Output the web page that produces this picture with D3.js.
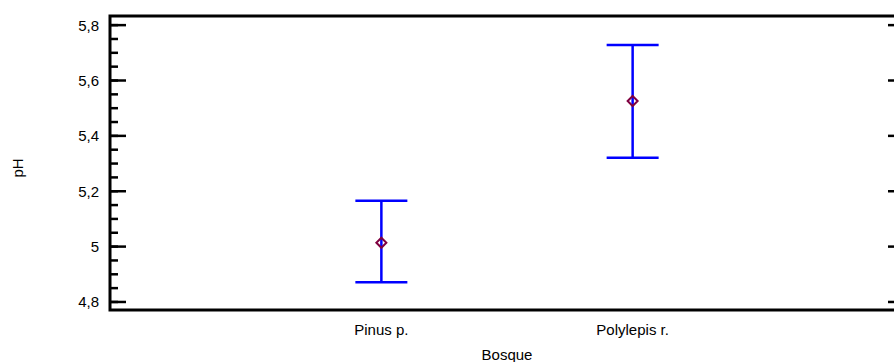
<!DOCTYPE html>
<html lang="es">
  <head>
    <meta charset="UTF-8" />
    <title>pH por Bosque</title>
    <script src="https://d3js.org/d3.v7.min.js"></script>
    <style>
      body {
        margin: 0;
        background: #fff;
      }
      svg text {
        font-family: "Liberation Sans", Arial, sans-serif;
        font-size: 15px;
        fill: #000;
      }
    </style>
  </head>
  <body>
    <svg id="chart" width="894" height="362"></svg>

    <script>
      // Data
      const categories = ["Pinus p.", "Polylepis r."];
      const means = [5.014, 5.526];
      const lower = [4.871, 5.321];
      const upper = [5.166, 5.728];

      const tickValues = [4.8, 5.0, 5.2, 5.4, 5.6, 5.8];
      const tickLabels = ["4,8", "5", "5,2", "5,4", "5,6", "5,8"];
      const minorTicks = d3.range(4.8, 5.801, 0.05);

      const svg = d3.select("#chart");
      // plot area runs off the right edge of the window, as in the original
      const plotLeft = 110, plotRight = 904, plotTop = 16, plotBottom = 310;

      const x = d3.scalePoint().domain(categories).range([plotLeft, plotRight]).padding(1.08);
      const y = d3.scaleLinear().domain([4.771, 5.833]).range([plotBottom, plotTop]);

      // Frame
      svg.append("rect")
        .attr("x", plotLeft)
        .attr("y", plotTop)
        .attr("width", plotRight - plotLeft)
        .attr("height", plotBottom - plotTop)
        .attr("fill", "none")
        .attr("stroke", "#000")
        .attr("stroke-width", 3);

      // Left axis: inward ticks
      const leftAxis = svg.append("g");
      leftAxis.selectAll(".minor")
        .data(minorTicks)
        .enter()
        .append("line")
        .attr("x1", plotLeft)
        .attr("x2", plotLeft + 8)
        .attr("y1", (d) => y(d))
        .attr("y2", (d) => y(d))
        .attr("stroke", "#000")
        .attr("stroke-width", 2.5);
      leftAxis.selectAll(".major")
        .data(tickValues)
        .enter()
        .append("line")
        .attr("x1", plotLeft)
        .attr("x2", plotLeft + 16)
        .attr("y1", (d) => y(d))
        .attr("y2", (d) => y(d))
        .attr("stroke", "#000")
        .attr("stroke-width", 2.5);
      leftAxis.selectAll("text")
        .data(tickValues)
        .enter()
        .append("text")
        .attr("x", plotLeft - 11)
        .attr("y", (d) => y(d))
        .attr("dy", "0.36em")
        .attr("text-anchor", "end")
        .text((d, i) => tickLabels[i]);

      // Right axis: major ticks only
      svg.append("g")
        .selectAll("line")
        .data(tickValues)
        .enter()
        .append("line")
        .attr("x1", plotRight - 16)
        .attr("x2", plotRight)
        .attr("y1", (d) => y(d))
        .attr("y2", (d) => y(d))
        .attr("stroke", "#000")
        .attr("stroke-width", 2.5);

      // Category labels
      svg.append("g")
        .selectAll("text")
        .data(categories)
        .enter()
        .append("text")
        .attr("x", (d) => x(d))
        .attr("y", 335)
        .attr("text-anchor", "middle")
        .text((d) => d);

      // Axis titles
      svg.append("text")
        .attr("x", (plotLeft + plotRight) / 2)
        .attr("y", 360)
        .attr("text-anchor", "middle")
        .text("Bosque");

      svg.append("text")
        .attr("transform", "translate(23,168) rotate(-90)")
        .attr("text-anchor", "middle")
        .text("pH");

      // Error bars
      const bars = svg.append("g")
        .selectAll("g")
        .data(categories)
        .enter()
        .append("g")
        .attr("stroke", "#0000ff")
        .attr("stroke-width", 2.5);

      bars.append("line")
        .attr("x1", (d) => x(d))
        .attr("x2", (d) => x(d))
        .attr("y1", (d, i) => y(upper[i]))
        .attr("y2", (d, i) => y(lower[i]));
      bars.append("line")
        .attr("x1", (d) => x(d) - 26)
        .attr("x2", (d) => x(d) + 26)
        .attr("y1", (d, i) => y(upper[i]))
        .attr("y2", (d, i) => y(upper[i]));
      bars.append("line")
        .attr("x1", (d) => x(d) - 26)
        .attr("x2", (d) => x(d) + 26)
        .attr("y1", (d, i) => y(lower[i]))
        .attr("y2", (d, i) => y(lower[i]));

      // Mean markers (hollow diamonds)
      svg.append("g")
        .selectAll("path")
        .data(categories)
        .enter()
        .append("path")
        .attr("transform", (d, i) => `translate(${x(d)},${y(means[i])})`)
        .attr("d", "M0,-5L5,0L0,5L-5,0Z")
        .attr("fill", "none")
        .attr("stroke", "#800040")
        .attr("stroke-width", 2);
    </script>
  </body>
</html>
